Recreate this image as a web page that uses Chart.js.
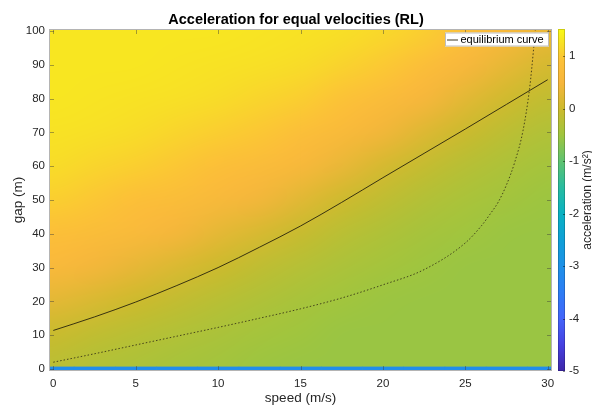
<!DOCTYPE html>
<html>
<head>
<meta charset="utf-8">
<script src="https://cdn.jsdelivr.net/npm/chart.js@4.4.1/dist/chart.umd.min.js"></script>
<style>
html, body { margin: 0; padding: 0; background: #fff; }
#wrap { width: 592px; height: 406px; }
</style>
</head>
<body>
<div id="wrap"><canvas id="myChart"></canvas></div>
<script>
// grid of the acceleration map: speed columns (m/s), gap rows (m)
const speeds = [0, 2.5, 5, 7.5, 10, 12.5, 15, 17.5, 20, 22.5, 25, 27.5, 30];
const gaps = [1, 10, 20, 30, 40, 50, 60, 70, 80, 90, 100];

// acceleration (m/s^2), one row per gap, one value per speed
const accel = [
  [-0.20, -0.30, -0.36, -0.42, -0.47, -0.52, -0.55, -0.55, -0.55, -0.55, -0.55, -0.55, -0.55],
  [-0.03, -0.13, -0.22, -0.30, -0.38, -0.45, -0.50, -0.55, -0.55, -0.55, -0.55, -0.55, -0.55],
  [ 0.29,  0.15,  0.01, -0.11, -0.22, -0.32, -0.41, -0.48, -0.53, -0.55, -0.55, -0.55, -0.55],
  [ 0.63,  0.47,  0.32,  0.17,  0.00, -0.14, -0.26, -0.37, -0.45, -0.51, -0.55, -0.55, -0.55],
  [ 0.87,  0.77,  0.64,  0.48,  0.30,  0.13, -0.06, -0.21, -0.33, -0.43, -0.49, -0.54, -0.55],
  [ 1.06,  0.98,  0.87,  0.77,  0.61,  0.45,  0.25,  0.02, -0.15, -0.29, -0.39, -0.47, -0.52],
  [ 1.20,  1.13,  1.06,  0.98,  0.86,  0.74,  0.57,  0.35,  0.11, -0.09, -0.24, -0.36, -0.44],
  [ 1.26,  1.24,  1.20,  1.13,  1.05,  0.97,  0.84,  0.67,  0.44,  0.20, -0.02, -0.19, -0.31],
  [ 1.31,  1.28,  1.26,  1.24,  1.20,  1.12,  1.05,  0.92,  0.75,  0.51,  0.26,  0.04, -0.13],
  [ 1.31,  1.31,  1.31,  1.28,  1.26,  1.24,  1.20,  1.10,  1.00,  0.81,  0.55,  0.31,  0.10],
  [ 1.31,  1.31,  1.31,  1.31,  1.31,  1.28,  1.26,  1.23,  1.16,  1.05,  0.84,  0.57,  0.34]
];
// row at gap 0
const floorAccel = [-3.1, -3.1, -3.1, -3.1, -3.1, -3.1, -3.1, -3.1, -3.1, -3.1, -3.1, -3.1, -3.1];

// equilibrium curve
const eqSpeed = [0, 2.5, 5, 7.5, 10, 12.5, 15, 17.5, 20, 22.5, 25, 27.5, 30];
const eqGap = [11.4, 15.4, 19.8, 24.7, 30, 36, 42.3, 49.3, 56.6, 63.8, 71, 78.3, 85.6];

// dotted curve
const dotSpeed = [0, 2.5, 5, 7.5, 10, 12.5, 15, 17.5, 20, 22.5, 25, 26, 26.5, 27, 27.5, 28, 28.5, 28.9, 29.15, 29.3];
const dotGap = [2.0, 4.5, 7.1, 9.7, 12.3, 15.0, 17.8, 21.0, 24.9, 29.4, 37.3, 42.5, 45.8, 49.4, 54.5, 61.2, 70.5, 83.0, 95.0, 103];

const colorTicks = [-5, -4, -3, -2, -1, 0, 1];
const colorMin = -5, colorMax = 1.52;

// parula-like colour map, keyed by acceleration
const cmap = [
  [-5.0, 62, 38, 168],
  [-4.5, 70, 65, 225],
  [-4.0, 68, 100, 250],
  [-3.5, 45, 125, 245],
  [-3.0, 30, 145, 232],
  [-2.5, 15, 160, 215],
  [-2.0, 10, 178, 195],
  [-1.5, 40, 188, 160],
  [-1.0, 95, 195, 112],
  [-0.5, 160, 197, 62],
  [ 0.0, 205, 186, 45],
  [ 0.5, 247, 182, 60],
  [ 0.9, 252, 192, 56],
  [ 1.2, 248, 220, 40],
  [ 1.52, 249, 250, 20]
];

function colorFor(a) {
  if (a <= cmap[0][0]) return cmap[0].slice(1);
  for (let i = 1; i < cmap.length; i++) {
    if (a <= cmap[i][0]) {
      const p = cmap[i - 1], q = cmap[i];
      const t = (a - p[0]) / (q[0] - p[0]);
      return [1, 2, 3].map(k => Math.round(p[k] + (q[k] - p[k]) * t));
    }
  }
  return cmap[cmap.length - 1].slice(1);
}

const FONT = "'Liberation Sans', Arial, Helvetica, sans-serif";
Chart.defaults.font.family = FONT;

const heatmap = {
  id: 'heatmap',
  beforeDatasetsDraw(chart) {
    const { ctx, chartArea: area, scales: { x, y } } = chart;
    const nx = speeds.length, ny = gaps.length;
    // small image, one pixel per grid node, with a repeated border
    const off = document.createElement('canvas');
    off.width = nx + 2;
    off.height = ny + 2;
    const octx = off.getContext('2d');
    const img = octx.createImageData(nx + 2, ny + 2);
    for (let py = 0; py < ny + 2; py++) {
      for (let px = 0; px < nx + 2; px++) {
        const r = ny - 1 - Math.min(ny - 1, Math.max(0, py - 1));
        const c = Math.min(nx - 1, Math.max(0, px - 1));
        const [R, G, B] = colorFor(accel[r][c]);
        const k = (py * (nx + 2) + px) * 4;
        img.data[k] = R; img.data[k + 1] = G; img.data[k + 2] = B; img.data[k + 3] = 255;
      }
    }
    octx.putImageData(img, 0, 0);
    const dv = (speeds[nx - 1] - speeds[0]) / (nx - 1);
    const dg = (gaps[ny - 1] - gaps[0]) / (ny - 1);
    const left = x.getPixelForValue(speeds[0] - dv / 2);
    const right = x.getPixelForValue(speeds[nx - 1] + dv / 2);
    const top = y.getPixelForValue(gaps[ny - 1] + dg / 2);
    const bottom = y.getPixelForValue(gaps[0] - dg / 2);

    ctx.save();
    ctx.beginPath();
    ctx.rect(area.left, area.top, area.right - area.left, area.bottom - area.top);
    ctx.clip();
    ctx.imageSmoothingEnabled = true;
    ctx.imageSmoothingQuality = 'high';
    ctx.drawImage(off, 1, 1, nx, ny, left, top, right - left, bottom - top);

    // gap 0 row
    const y0 = y.getPixelForValue(0.7), y1 = y.getPixelForValue(-0.6);
    floorAccel.forEach((a, c) => {
      const [R, G, B] = colorFor(a);
      ctx.fillStyle = `rgb(${R},${G},${B})`;
      const x0 = x.getPixelForValue(speeds[c] - dv / 2);
      const x1 = x.getPixelForValue(speeds[c] + dv / 2);
      ctx.fillRect(x0, y0, x1 - x0 + 0.5, y1 - y0);
    });
    ctx.restore();
  },
  afterDatasetsDraw(chart) {
    const { ctx, chartArea: a, scales: { x, y } } = chart;
    ctx.save();
    // inner tick marks
    ctx.strokeStyle = 'rgba(60,60,60,0.45)';
    ctx.lineWidth = 1;
    ctx.beginPath();
    x.ticks.forEach(t => {
      const px = Math.round(x.getPixelForValue(t.value)) + 0.5;
      ctx.moveTo(px, a.bottom); ctx.lineTo(px, a.bottom - 5);
      ctx.moveTo(px, a.top); ctx.lineTo(px, a.top + 5);
    });
    y.ticks.forEach(t => {
      const py = Math.round(y.getPixelForValue(t.value)) + 0.5;
      ctx.moveTo(a.left, py); ctx.lineTo(a.left + 5, py);
      ctx.moveTo(a.right, py); ctx.lineTo(a.right - 5, py);
    });
    ctx.stroke();
    // box
    ctx.strokeStyle = '#b4b4b4';
    ctx.strokeRect(Math.round(a.left) + 0.5, Math.round(a.top) + 0.5,
      Math.round(a.right - a.left) - 1, Math.round(a.bottom - a.top) - 1);

    // legend (first dataset only)
    const ds = chart.data.datasets[0];
    const lx = a.right - 107, ly = a.top + 3.5, lw = 104, lh = 14;
    ctx.fillStyle = '#fff';
    ctx.fillRect(lx, ly, lw, lh);
    ctx.strokeStyle = '#bdbdbd';
    ctx.strokeRect(lx + 0.5, ly + 0.5, lw - 1, lh - 1);
    ctx.strokeStyle = ds.borderColor;
    ctx.lineWidth = 1;
    ctx.beginPath();
    ctx.moveTo(lx + 2, ly + 7.5); ctx.lineTo(lx + 13, ly + 7.5);
    ctx.stroke();
    ctx.fillStyle = '#000';
    ctx.font = '11px ' + FONT;
    ctx.textBaseline = 'middle';
    ctx.textAlign = 'left';
    ctx.fillText(ds.label, lx + 15.5, ly + 7.5);
    ctx.restore();
  },
  afterDraw(chart) {
    const { ctx, scales: { cb } } = chart;
    const bx = cb.left + 6, bw = 7;
    ctx.save();
    for (let py = Math.floor(cb.top); py < Math.ceil(cb.bottom); py++) {
      const [R, G, B] = colorFor(cb.getValueForPixel(py + 0.5));
      ctx.fillStyle = `rgb(${R},${G},${B})`;
      ctx.fillRect(bx, py, bw, 1);
    }
    ctx.strokeStyle = 'rgba(0,0,0,0.45)';
    ctx.beginPath();
    cb.ticks.forEach(t => {
      const py = Math.round(cb.getPixelForValue(t.value)) + 0.5;
      ctx.moveTo(bx + bw - 2, py); ctx.lineTo(bx + bw, py);
    });
    ctx.stroke();
    ctx.strokeStyle = 'rgba(0,0,0,0.18)';
    ctx.strokeRect(bx + 0.5, Math.round(cb.top) + 0.5, bw - 1, Math.round(cb.bottom - cb.top) - 1);
    // colour bar label, reading upwards
    ctx.translate(588, (cb.top + cb.bottom) / 2);
    ctx.rotate(-Math.PI / 2);
    ctx.fillStyle = '#262626';
    ctx.font = '12px ' + FONT;
    ctx.textAlign = 'center';
    ctx.textBaseline = 'middle';
    ctx.fillText('acceleration (m/s²)', 0, 0);
    ctx.restore();
  }
};

const tickFont = { family: FONT, size: 11.5 };
const zeroPad = s => { s.paddingLeft = 0; s.paddingRight = 0; s.paddingTop = 0; s.paddingBottom = 0; };

let chart;
document.addEventListener('DOMContentLoaded', function () {
  const ctx = document.getElementById('myChart').getContext('2d');
  chart = new Chart(ctx, {
    type: 'scatter',
    data: {
      datasets: [{
        label: 'equilibrium curve',
        data: eqSpeed.map((v, i) => ({ x: v, y: eqGap[i] })),
        showLine: true,
        borderColor: 'rgba(40,36,12,0.9)',
        borderWidth: 1,
        pointRadius: 0,
        cubicInterpolationMode: 'monotone'
      }, {
        label: 'dotted curve',
        data: dotSpeed.map((v, i) => ({ x: v, y: dotGap[i] })),
        showLine: true,
        borderColor: 'rgba(50,46,20,0.85)',
        borderWidth: 1,
        borderDash: [1.5, 2],
        pointRadius: 0,
        cubicInterpolationMode: 'monotone'
      }]
    },
    options: {
      responsive: true,
      maintainAspectRatio: false,
      animation: false,
      layout: { padding: 0 },
      plugins: {
        legend: { display: false },
        tooltip: { enabled: false },
        title: {
          display: true,
          text: 'Acceleration for equal velocities (RL)',
          color: '#000',
          font: { family: FONT, size: 14.5, weight: 'bold' },
          padding: { top: 11.6, bottom: 0 }
        }
      },
      scales: {
        x: {
          type: 'linear',
          min: -0.26, max: 30.26,
          ticks: { stepSize: 5, includeBounds: false, padding: 6, maxRotation: 0, color: '#262626', font: tickFont },
          grid: { display: false, drawTicks: false },
          border: { display: false },
          title: { display: true, text: 'speed (m/s)', color: '#262626', font: { family: FONT, size: 13.5 }, padding: { top: 0, bottom: 0 } },
          afterFit: s => { s.height = 35; zeroPad(s); }
        },
        y: {
          type: 'linear',
          min: -0.6, max: 100.6,
          ticks: { stepSize: 10, includeBounds: false, padding: 4, color: '#262626', font: tickFont },
          grid: { display: false, drawTicks: false },
          border: { display: false },
          title: { display: true, text: 'gap (m)', color: '#262626', font: { family: FONT, size: 13.5 }, padding: { top: 10, bottom: 0 } },
          afterFit: s => { s.width = 49; zeroPad(s); }
        },
        cb: {
          type: 'linear',
          position: 'right',
          min: colorMin, max: colorMax,
          afterBuildTicks: s => { s.ticks = colorTicks.map(v => ({ value: v })); },
          ticks: { padding: 17, color: '#262626', font: tickFont },
          grid: { display: false, drawTicks: false },
          border: { display: false },
          afterFit: s => { s.width = 40; zeroPad(s); }
        }
      }
    },
    plugins: [heatmap]
  });
});
</script>
</body>
</html>
